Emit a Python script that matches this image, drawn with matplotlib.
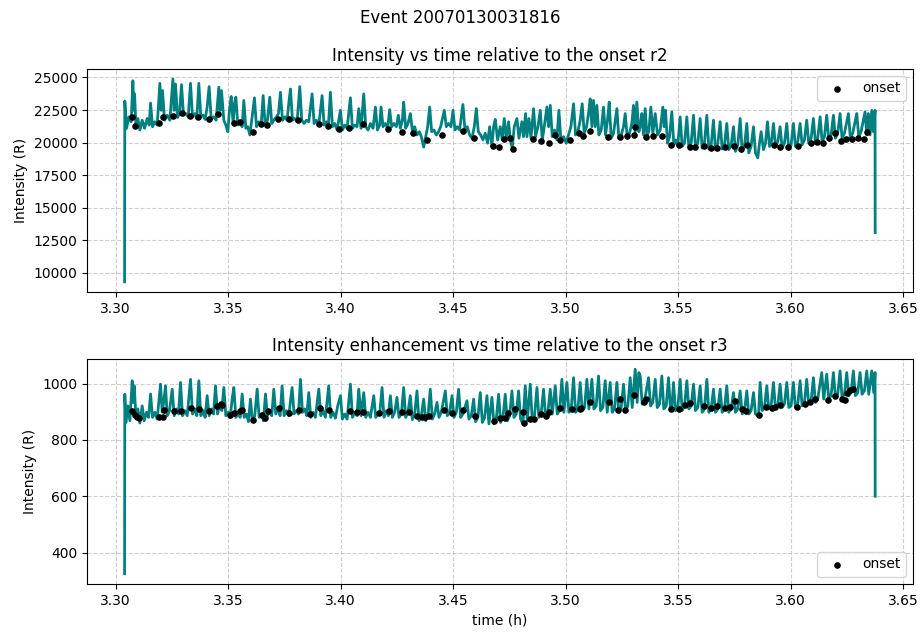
import matplotlib
matplotlib.use("Agg")
import numpy as np
import matplotlib.pyplot as plt

# time offsets are in seconds after 3.30 h, intensities in R
t_base = 3.30

r2_sec = [
    14.4, 14.8, 17.6, 21.3, 25.0, 27.7, 29.3, 30.4, 32.5, 35.7, 38.9, 42.6, 46.4, 50.6, 53.8, 56.0,
    59.1, 62.9, 66.6, 70.9, 73.0, 75.1, 78.3, 82.6, 86.9, 91.7, 93.8, 95.9, 99.1, 102.3, 105.5, 108.7,
    112.4, 116.2, 119.9, 123.1, 126.8, 130.0, 133.2, 136.4, 140.1, 143.3, 146.5, 149.7, 152.9, 157.2,
    160.9, 165.2, 167.3, 169.5, 173.2, 176.4, 179.6, 182.2, 184.9, 188.1, 190.2, 192.4, 195.6, 199.8,
    202.5, 205.2, 208.4, 211.5, 214.8, 218.5, 222.2, 225.4, 229.1, 232.9, 236.1, 239.3, 243.0, 246.7,
    249.9, 253.1, 257.4, 260.6, 263.8, 267.0, 270.7, 274.4, 277.6, 279.8, 283.0, 286.7, 290.4, 294.7,
    297.9, 301.6, 305.3, 309.1, 314.4, 317.6, 321.3, 325.1, 330.4, 333.6, 337.3, 340.5, 343.7, 346.9,
    350.6, 354.4, 359.7, 362.9, 366.6, 370.4, 375.7, 378.9, 382.6, 386.3, 389.0, 392.7, 397.0, 400.2,
    403.9, 407.7, 411.9, 415.7, 418.9, 422.6,
    424.7, 427.9, 431.6, 435.3, 438.5, 441.7, 445.4, 449.2, 452.4, 455.6, 458.8, 460.9, 464.1, 467.8,
    471.6, 474.7, 478.5, 482.2, 486.0, 489.1, 492.9, 496.1, 499.3, 502.5, 505.7, 509.4, 513.1, 516.8,
    520.0, 525.9, 529.1, 532.8, 536.6, 539.8, 543.0, 546.7, 550.4, 555.7, 558.9, 562.7, 566.4, 570.1,
    573.9, 577.1, 580.3, 584.0, 587.7, 591.4, 595.2, 598.4, 602.1, 604.8, 607.4, 611.2, 615.4, 618.6,
    621.8, 625.0, 628.8, 631.4, 634.6, 637.8, 642.1, 645.3, 650.1, 652.7, 655.9, 658.1, 661.3, 664.5,
    668.7, 671.9, 675.7, 679.4, 682.6, 685.8, 690.0, 692.7, 695.4, 698.6, 702.3, 706.0, 709.2, 712.4,
    716.7, 720.9, 724.7, 728.4, 732.7, 735.9, 739.6, 743.3, 746.5, 749.7, 753.5, 756.6, 759.3, 762.0,
    764.6, 767.3, 770.0, 773.2, 776.9, 780.6, 783.8, 787.0, 789.7, 792.9, 796.6, 802.0, 805.1, 808.9,
    812.6, 815.3, 818.5, 822.2, 825.9, 828.6, 831.3, 833.9, 837.1,
    839.3, 841.9, 844.6, 847.3, 850.0, 853.1, 856.3, 859.5, 863.3, 867.0, 871.3, 875.5, 877.7, 879.8,
    883.0, 886.2, 889.9, 893.1, 896.3, 899.5, 903.2, 906.4, 910.2, 913.9, 917.1, 920.8, 924.6, 927.7,
    931.5, 935.2, 938.4, 942.1, 945.9, 949.1, 952.8, 956.5, 959.7, 963.5, 967.2, 970.4, 974.1, 977.8,
    981.0, 984.8, 988.5, 991.7, 995.4, 999.2, 1002.4, 1006.1, 1009.8, 1013.0, 1016.7, 1020.5, 1023.7,
    1027.4, 1030.1, 1032.7, 1036.5, 1039.7, 1042.9, 1046.1, 1049.3, 1052.5, 1055.7, 1059.4, 1063.1,
    1066.3, 1070.0, 1073.8, 1077.0, 1080.7, 1084.4, 1087.6, 1091.4, 1095.1, 1098.3, 1102.0, 1105.7,
    1108.9, 1112.7, 1116.4, 1119.6, 1123.3, 1127.1, 1130.3, 1134.0, 1137.7, 1140.9, 1144.6, 1148.4,
    1151.6, 1155.3, 1159.0, 1162.2, 1166.0, 1172.4, 1175.5, 1179.3, 1185.7, 1188.9, 1192.6, 1199.0,
    1201.7, 1204.3, 1207.0, 1209.7, 1212.3, 1215.0, 1215.2,
]
r2_int = [
    9320, 23190, 21100, 21980, 21600, 24750, 22480, 23740, 21350, 21850, 20970, 21720, 21100, 21850, 21350, 23040,
    21220, 21600, 21350, 24550, 22480, 23990, 21720, 22100, 21720, 24880, 22480, 24500, 21930, 22230, 24450, 22100,
    22230, 21980, 24550, 21980, 22230, 21850, 24550, 21980, 22100, 21780, 22730, 24300, 21850, 21980,
    21720, 24250, 22480, 23990, 21720, 21350, 20840, 22480, 23540, 21470, 22990, 23490, 21350, 21600,
    21220, 23240, 21100, 21220, 20590, 21980, 23440, 21220, 21600, 21350, 23610, 21350, 21720, 23490,
    21470, 21720, 21980, 22230, 23870, 21720, 21980, 21720, 23240, 24120, 21720, 21850, 21600, 24300,
    21720, 21470, 21720, 21600, 23740, 21470, 21720, 21350, 23610, 21350, 21600, 21350, 23870, 21220,
    21470, 20970, 22480, 20970, 21350, 21100, 23440, 21100, 21350, 21220, 22610, 21100, 23740, 21220,
    20970, 21470, 21100, 22730, 20970, 21350,
    22730, 21220, 21470, 21100, 22530, 21220, 21470, 21220, 22100, 21100, 21720, 23110, 21100, 21470,
    22230, 20970, 21220, 20590, 20840, 20460, 19660, 20460, 21220, 22730, 20840, 20970, 20590, 20840,
    21220, 22480, 21220, 21470, 21220, 22480, 20970, 21220, 20970, 22930, 20970, 21220, 20590, 20340,
    21220, 22610, 20840, 20590, 20210, 20720, 19960, 21220, 19760, 21220, 21780, 20210, 21220, 20210,
    21850, 20340, 21600, 20210, 19580, 21220, 21850, 20340, 21600, 20460, 22230, 20460, 21850, 20340,
    22610, 20460, 21220, 22480, 20210, 21220, 22730, 21220, 22860, 20460, 20970, 20210, 22480, 20210,
    20460, 19960, 20590, 21220, 22980, 20590, 20840, 21720, 22980, 20720, 21220, 22230, 23360, 21220,
    23240, 21220, 22860, 20590, 20970, 22730, 20590, 21720, 23110, 20340, 20720, 22610, 20340, 20590,
    21220, 22230, 20460, 20720, 21470, 22860, 20840, 23110, 20840,
    21220, 22230, 20590, 22610, 20590, 20840, 22730, 20720, 22230, 20590, 20970, 22730, 21220, 22480,
    19960, 20460, 22360, 19830, 20210, 19830, 21980, 19710, 19960, 21980, 19660, 19960, 22100, 19580,
    19960, 21850, 19580, 19960, 22100, 19510, 19830, 21720, 19460, 19960, 21600, 19510, 19830, 21470,
    19460, 19830, 21220, 19330, 19830, 21850, 19330, 19710, 21470, 19210, 19710, 21220, 19210,
    18830, 19960, 20840, 19460, 19960, 21600, 19710, 20090, 21470, 19710, 20090, 21220,
    19580, 19960, 21470, 19460, 19830, 21470, 19710, 20090, 21470, 19830, 20210, 21720,
    19960, 20340, 21850, 19960, 20340, 21980, 20090, 20460, 22100, 20210, 20590, 22100,
    20340, 20720, 22230, 20340, 20720, 22230, 20340, 20720, 22230, 20460, 20840, 22360,
    20590, 22230, 20590, 22480, 20840, 22480, 13100,
]

r2_onset_sec = [
    26.6, 30.9, 69.3, 76.2, 92.2, 105.5, 118.8, 132.2, 149.2, 163.6, 190.2, 199.8, 220.1, 233.4, 242.5,
    260.0, 277.1, 291.5, 326.1, 339.4, 357.6, 374.1, 395.9,
    435.3, 458.2, 475.8, 498.2, 522.2, 555.2, 572.8, 603.7, 612.8, 620.8, 630.4, 635.2, 667.1, 680.4,
    692.7, 702.3, 710.3, 727.3, 741.7, 747.6, 758.3, 788.1, 806.2, 817.9, 828.6, 831.3,
    848.9, 859.5, 873.9, 888.3, 900.6, 918.2, 927.2, 941.6, 952.8, 961.9, 975.2, 989.6, 1000.8, 1010.9,
    1053.5, 1063.1, 1076.4, 1091.4, 1112.7, 1121.7, 1131.3, 1140.9, 1151.0, 1160.1, 1168.6, 1177.7,
    1188.3, 1197.4, 1202.7,
]
r2_onset_int = [
    21930, 21300, 21520, 21930, 22030, 22300, 22080, 21930, 21830, 22180, 21470, 21550, 20840, 21400, 21320,
    21850, 21830, 21700, 21400, 21300, 21050, 21150, 21400,
    21050, 20840, 20770, 20210, 20570, 20920, 20340, 19760, 19660, 20260, 20340, 19510, 20260, 20110,
    19960, 20590, 20210, 20210, 20720, 20520, 20920, 20420, 20420, 20520, 20590, 21220,
    20420, 20520, 20520, 19830, 19830, 19660, 19660, 19710, 19560, 19560, 19660, 19710, 19510, 19810,
    19810, 19660, 19660, 19760, 19960, 20040, 20010, 20360, 20720, 20140, 20260, 20310,
    20340, 20260, 20790,
]

r3_sec = [
    14.4, 14.8, 16.5, 19.7, 22.9, 26.6, 28.2, 29.8, 32.5, 35.7, 38.9, 42.6, 45.8, 49.6, 52.8, 56.0,
    59.1, 62.9, 66.6, 71.9, 74.6, 77.3, 79.9, 82.6, 86.3, 90.6, 93.8, 97.5, 100.7, 103.9, 107.1, 110.8,
    114.6, 119.9, 123.1, 126.8, 130.0, 133.2, 136.4, 140.1, 143.3, 146.5, 149.7, 153.5, 156.7, 159.9,
    163.1, 166.8, 170.0, 173.2, 176.4, 180.1, 183.3, 186.5, 189.2, 192.4, 196.1, 199.3, 202.5, 205.7,
    209.4, 212.6, 215.8, 219.0, 222.7, 226.5, 229.7, 233.4, 236.6, 239.8, 243.0, 246.7, 249.9, 253.1,
    256.3, 260.0, 263.2, 266.4, 269.6, 273.4, 277.1, 282.4, 285.6, 289.4, 292.6, 295.8, 299.0, 302.7,
    305.9, 309.1, 312.3, 316.0, 319.7, 325.1, 328.3, 332.0, 335.7, 341.0, 344.2, 348.0, 351.7, 355.4,
    359.7, 362.9, 366.6, 370.4, 375.7, 378.9, 382.6, 386.3, 389.0, 392.7, 397.0, 400.2, 403.9, 407.7,
    413.0, 416.2, 419.9,
    422.5, 426.3, 429.4, 433.2, 436.4, 439.6, 442.8, 446.5, 450.2, 453.4, 457.2, 460.9, 464.1, 467.8,
    471.5, 474.7, 478.5, 482.2, 485.4, 489.1, 492.9, 496.1, 499.8, 503.5, 506.7, 510.5, 514.2, 517.4,
    521.1, 527.5, 530.7, 534.4, 538.2, 541.4, 545.1, 548.8, 552.0, 555.7, 562.1, 565.3, 569.1, 572.8,
    576.0, 579.7, 583.5, 586.7, 590.4, 594.1, 597.3, 602.1, 605.3, 609.0, 612.8, 616.0, 619.7, 623.4,
    626.6, 630.4, 634.1, 637.3, 641.0, 644.7, 647.9, 651.7, 655.4, 658.6, 663.4, 666.6, 670.3, 674.1,
    677.2, 681.0, 684.7, 687.9, 691.6, 695.4, 698.6, 703.4, 706.6, 710.3, 714.0, 717.2, 722.0, 725.2,
    728.9, 732.7, 735.9, 739.6, 743.3, 746.5, 750.3, 754.0, 757.2, 762.0, 765.2, 768.9, 772.6, 775.8,
    779.6, 783.3, 786.5, 791.3, 794.5, 798.2, 802.0, 805.1, 808.9, 812.6, 815.8, 819.5, 823.3, 826.5,
    831.3, 834.5, 837.1,
    839.3, 842.5, 846.2, 852.6, 855.8, 859.5, 863.3, 866.5, 870.2, 873.9, 877.1, 880.9, 884.6, 887.8,
    889.9, 892.6, 895.8, 899.5, 903.2, 906.4, 910.2, 913.9, 917.1, 920.8, 924.6, 927.7, 931.5, 935.2,
    938.4, 942.1, 945.9, 949.1, 952.8, 956.5, 959.7, 963.5, 967.2, 970.4, 974.1, 977.8, 981.0, 984.8,
    988.5, 991.7, 995.4, 999.2, 1002.4, 1006.1, 1009.8, 1013.0, 1016.7, 1020.5, 1023.7, 1028.5, 1031.1,
    1034.3, 1038.1, 1041.8, 1045.0, 1048.7, 1052.5, 1055.7, 1059.4, 1063.1, 1066.3, 1070.0, 1073.8,
    1077.0, 1080.7, 1084.4, 1087.6, 1091.4, 1095.1, 1098.3, 1102.0, 1105.7, 1108.9, 1112.7, 1116.4,
    1119.6, 1123.3, 1129.7, 1132.9, 1137.7, 1140.9, 1144.6, 1148.4, 1151.6, 1155.3, 1159.0, 1162.2,
    1166.0, 1169.7, 1172.9, 1176.6, 1180.3, 1183.5, 1187.3, 1191.0, 1194.2, 1197.9, 1201.7, 1204.9,
    1209.7, 1212.9, 1215.0, 1215.2,
]
r3_int = [
    325, 962, 862, 921, 868, 1010, 933, 992, 886, 910, 860, 921, 868, 898, 880, 963,
    880, 898, 874, 998, 898, 939, 992, 886, 904, 980, 886, 910, 892, 1004, 886, 904,
    886, 1015, 892, 910, 886, 1010, 886, 904, 880, 957, 886, 910, 892, 992,
    892, 927, 904, 986, 886, 898, 880, 945, 986, 880, 898, 880, 963, 880,
    892, 865, 945, 865, 886, 980, 880, 892, 868, 963, 886, 904, 886, 980,
    892, 910, 886, 992, 886, 904, 886, 986, 892, 904, 892, 1015, 898, 910,
    886, 968, 880, 898, 880, 980, 886, 904, 880, 992, 880, 898, 877, 921,
    957, 874, 892, 874, 998, 880, 898, 886, 980, 886, 968, 880, 898, 880,
    957, 880, 892,
    892, 986, 880, 904, 886, 957, 880, 898, 951, 880, 892, 986, 880, 898,
    957, 872, 892, 974, 868, 886, 945, 868, 886, 980, 874, 892, 933, 880,
    898, 974, 886, 898, 957, 880, 898, 980, 880, 892, 939, 874, 886, 945,
    865, 880, 968, 862, 880, 957, 857, 951, 857, 874, 962, 862, 880, 962,
    868, 886, 974, 880, 892, 974, 874, 857, 992, 868, 998, 868, 886, 986,
    880, 898, 980, 880, 898, 980, 892, 992, 892, 904, 1015, 898, 1004, 898,
    910, 1021, 898, 910, 1004, 904, 915, 1015, 910, 1015, 910, 921, 1027, 904,
    916, 1010, 898, 1004, 898, 910, 1004, 898, 915, 998, 904, 921, 1021, 915,
    1051, 933, 1039,
    1027, 927, 939, 1021, 921, 933, 1015, 915, 927, 1027, 910, 921, 1021, 904,
    915, 1004, 904, 915, 1015, 904, 921, 1010, 910, 921, 998, 904, 915, 992,
    898, 910, 1015, 898, 910, 980, 898, 910, 980, 898, 910, 992, 898, 910,
    968, 898, 910, 974, 892, 904, 974, 892, 904, 968, 892, 884, 1004,
    904, 915, 992, 910, 921, 1004, 910, 921, 998, 915, 927, 1004,
    915, 921, 1004, 915, 927, 1010, 921, 933, 1015, 927, 939, 1021,
    933, 945, 1039, 945, 1033, 945, 957, 1039, 951, 962, 1045, 951,
    962, 1039, 957, 968, 1045, 957, 968, 1039, 962, 974, 1045, 962,
    1045, 968, 1039, 600,
]

r3_onset_sec = [
    26.6, 30.4, 34.6, 37.3, 69.3, 76.2, 77.3, 93.3, 105.0, 119.9, 133.2, 149.2, 162.5, 167.9, 170.5,
    183.8, 190.2, 199.8, 202.5, 220.1, 234.5, 239.8, 243.5, 261.1, 277.1, 293.1, 310.7, 327.7, 341.0,
    375.7, 386.3, 395.4, 421.0,
    436.9, 458.2, 468.9, 482.2, 490.2, 495.5, 500.9, 524.8, 538.2, 555.2, 574.4, 604.8, 614.4, 622.4,
    627.7, 638.3, 651.7, 653.8, 662.3, 668.7, 680.4, 688.9, 693.8, 711.4, 730.0, 742.3, 744.4, 758.3,
    789.7, 803.0, 806.2, 815.3, 829.7,
    844.6, 848.9, 888.3, 900.6, 911.2, 919.2, 941.6, 952.3, 962.9, 975.2, 983.2, 991.2, 1001.8, 1008.8,
    1030.1, 1040.7, 1049.8, 1055.1, 1063.1, 1090.8, 1103.1, 1111.1, 1119.1, 1140.4, 1151.0, 1161.7,
    1167.0, 1169.7, 1175.0, 1179.3,
]
r3_onset_int = [
    901, 888, 883, 877, 883, 883, 907, 901, 904, 914, 911, 904, 921, 927, 924,
    890, 895, 901, 906, 872, 888, 878, 901, 912, 895, 907, 892, 912, 907,
    904, 900, 900, 895,
    904, 900, 900, 884, 883, 883, 884, 907, 894, 907, 886, 866, 877, 879,
    895, 910, 900, 859, 874, 874, 891, 884, 900, 912, 910, 910, 914, 935,
    935, 906, 945, 907, 959,
    933, 945, 910, 910, 924, 931, 921, 915, 921, 915, 918, 937, 910, 901,
    888, 918, 913, 918, 924, 918, 927, 933, 945, 943, 957, 945,
    941, 968, 977, 980,
]

line_color = "#008080"

fig = plt.figure(figsize=(9.21, 6.32), dpi=100)
ax1 = fig.add_axes([0.0945, 0.538, 0.8965, 0.353])
ax2 = fig.add_axes([0.0945, 0.076, 0.8965, 0.356])

t_r2 = t_base + np.array(r2_sec) / 3600.0
t_r2_on = t_base + np.array(r2_onset_sec) / 3600.0
t_r3 = t_base + np.array(r3_sec) / 3600.0
t_r3_on = t_base + np.array(r3_onset_sec) / 3600.0

ax1.plot(t_r2, r2_int, color=line_color, linewidth=2.0)
ax1.scatter(t_r2_on, r2_onset_int, color="black", s=14, zorder=3, label="onset")
ax1.set_title("Intensity vs time relative to the onset r2")
ax1.set_ylabel("Intensity (R)")
ax1.grid(True, linestyle="--", alpha=0.6)
ax1.legend(loc="upper right")

ax2.plot(t_r3, r3_int, color=line_color, linewidth=2.0)
ax2.scatter(t_r3_on, r3_onset_int, color="black", s=14, zorder=3, label="onset")
ax2.set_title("Intensity enhancement vs time relative to the onset r3")
ax2.set_ylabel("Intensity (R)")
ax2.set_xlabel("time (h)")
ax2.grid(True, linestyle="--", alpha=0.6)
ax2.legend(loc="lower right")

for ax in (ax1, ax2):
    ax.set_xticks([3.30, 3.35, 3.40, 3.45, 3.50, 3.55, 3.60, 3.65])
    ax.set_xticklabels(["3.30", "3.35", "3.40", "3.45", "3.50", "3.55", "3.60", "3.65"])
ax2.set_yticks([400, 600, 800, 1000])

fig.suptitle("Event 20070130031816", y=0.985)
fig.savefig("out.png", dpi=100)
